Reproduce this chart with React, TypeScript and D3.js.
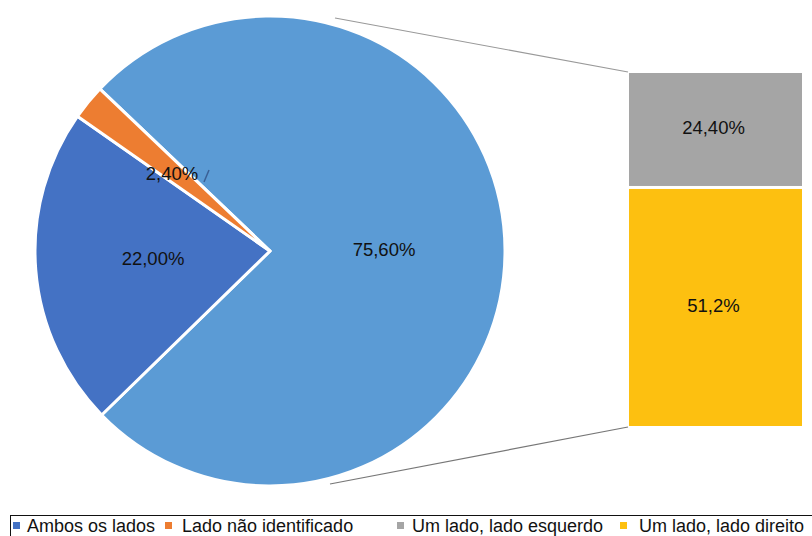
import React from "react";
import * as d3 from "d3";

const pieLabels = ["Um lado", "Ambos os lados", "Lado não identificado"];
const pieValues = [75.6, 22.0, 2.4];
const pieText = ["75,60%", "22,00%", "2,40%"];
const pieColors = ["#5B9BD5", "#4472C4", "#ED7D31"];

const barLabels = ["Um lado, lado esquerdo", "Um lado, lado direito"];
const barValues = [24.4, 51.2];
const barText = ["24,40%", "51,2%"];
const barColors = ["#A5A5A5", "#FDC010"];

const legendLabels = ["Ambos os lados", "Lado não identificado", "Um lado, lado esquerdo", "Um lado, lado direito"];
const legendColors = ["#4472C4", "#ED7D31", "#A5A5A5", "#FDC010"];

export default function App() {
  const W = 812, H = 536;
  const cx = 270, cy = 251, r = 235;
  const start = (-46.4 * Math.PI) / 180;
  const pie = d3.pie<number>().sort(null).value((d) => d).startAngle(start).endAngle(start + 2 * Math.PI);
  const arcs = pie(pieValues);
  const arc = d3.arc<d3.PieArcDatum<number>>().innerRadius(0).outerRadius(r);

  const labelPos: [number, number][] = [[384, 251], [153, 260], [172, 175]];

  const barTop = 73, barBottom = 426, gap = 3;
  const total = d3.sum(barValues);
  const y = d3.scaleLinear().domain([0, total]).range([barTop, barBottom - gap]);
  const barX = 629, barW = 173;

  let acc = 0;
  const bars = barValues.map((v, i) => {
    const y0 = y(acc) + (i > 0 ? gap : 0);
    const y1 = y(acc + v) + (i > 0 ? gap : 0);
    acc += v;
    return { y0, y1, i };
  });

  const legendSq = [13, 165, 397, 620];
  const legendTx = [27, 182, 412, 639];

  return (
    <svg width={W} height={H} style={{ position: "absolute", left: 0, top: 0 }} fontFamily="'Liberation Sans', Arial, sans-serif">
      <rect width={W} height={H} fill="#fff" />
      <line x1={335} y1={18} x2={628} y2={72} stroke="#999" strokeWidth={1.2} />
      <line x1={330} y1={484} x2={628} y2={427} stroke="#777" strokeWidth={1.2} />
      <g transform={`translate(${cx},${cy})`}>
        {arcs.map((a, i) => (
          <path key={i} d={arc(a) || ""} fill={pieColors[i]} stroke="#fff" strokeWidth={3} strokeLinejoin="round" />
        ))}
      </g>
      <line x1={204} y1={182} x2={209} y2={170} stroke="#3a5f95" strokeWidth={1.5} />
      {pieText.map((t, i) => (
        <text key={i} x={labelPos[i][0]} y={labelPos[i][1]} textAnchor="middle" dominantBaseline="middle" fontSize={18.5} fill="#111">{t}</text>
      ))}
      {bars.map((b) => (
        <g key={b.i}>
          <rect x={barX} y={b.y0} width={barW} height={b.y1 - b.y0} fill={barColors[b.i]} />
          <text x={barX + barW / 2 - 2} y={(b.y0 + b.y1) / 2} textAnchor="middle" dominantBaseline="middle" fontSize={18.5} fill="#111">{barText[b.i]}</text>
        </g>
      ))}
      <rect x={10.5} y={515.5} width={820} height={40} fill="none" stroke="#111" strokeWidth={1} />
      {legendLabels.map((l, i) => (
        <g key={i}>
          <rect x={legendSq[i]} y={522} width={7} height={7} fill={legendColors[i]} />
          <text x={legendTx[i]} y={531.5} fontSize={18} fill="#111">{l}</text>
        </g>
      ))}
    </svg>
  );
}
